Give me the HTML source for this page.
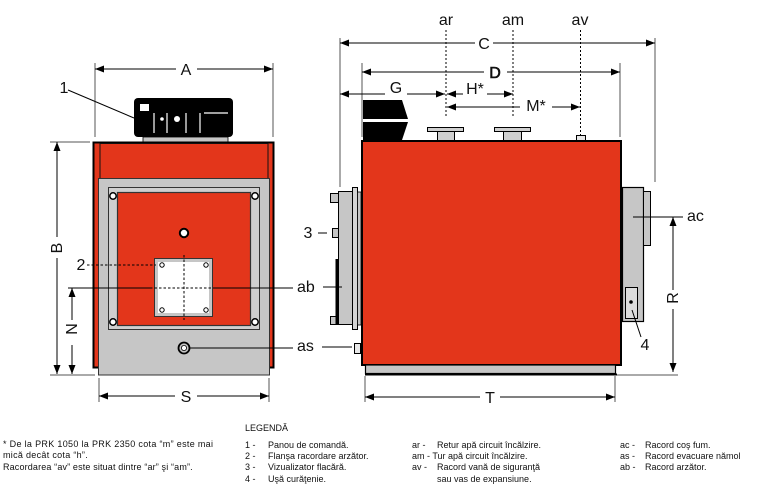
<!DOCTYPE html>
<html><head><meta charset="utf-8"><style>
html,body{margin:0;padding:0;background:#fff;}
svg{display:block;}
text{font-family:"Liberation Sans",Arial,sans-serif;fill:#111;}
.d{font-size:16px;}
.l{font-size:9px;}
</style></head><body>
<svg width="760" height="495" viewBox="0 0 760 495" xmlns="http://www.w3.org/2000/svg">
<defs>
<marker id="ar" viewBox="0 0 9 7" refX="9" refY="3.5" markerWidth="9" markerHeight="7" markerUnits="userSpaceOnUse" orient="auto"><path d="M0,0L9,3.5L0,7z" fill="#000"/></marker>
</defs>
<g stroke="#000" stroke-width="1" fill="none">
<line x1="95" y1="63" x2="95" y2="137" stroke="#555"/>
<line x1="273" y1="63" x2="273" y2="137" stroke="#555"/>
<line x1="176" y1="69" x2="95" y2="69" marker-end="url(#ar)"/>
<line x1="197" y1="69" x2="273" y2="69" marker-end="url(#ar)"/>
<line x1="68" y1="90" x2="134" y2="118"/>
<line x1="50" y1="142" x2="90" y2="142" stroke="#555"/>
<line x1="50" y1="375" x2="95" y2="375" stroke="#555"/>
<line x1="57" y1="237" x2="57" y2="142" marker-end="url(#ar)"/>
<line x1="57" y1="258" x2="57" y2="374" marker-end="url(#ar)"/>
<line x1="72" y1="320" x2="72" y2="288" marker-end="url(#ar)"/>
<line x1="72" y1="345" x2="72" y2="374" marker-end="url(#ar)"/>
<line x1="99" y1="378" x2="99" y2="402" stroke="#555"/>
<line x1="269" y1="378" x2="269" y2="402" stroke="#555"/>
<line x1="175" y1="396" x2="99" y2="396" marker-end="url(#ar)"/>
<line x1="197" y1="396" x2="269" y2="396" marker-end="url(#ar)"/>
</g>

<rect x="134" y="98" width="99" height="39" rx="4" fill="#000"/>
<rect x="140" y="104" width="9" height="7" fill="#fff"/>
<g stroke="#fff" stroke-width="1.2">
<line x1="154" y1="113" x2="154" y2="133"/>
<line x1="167" y1="113" x2="167" y2="133"/>
<line x1="186" y1="113" x2="186" y2="133"/>
<line x1="200" y1="113" x2="200" y2="133"/>
<line x1="204" y1="113" x2="228" y2="113"/>
</g>
<circle cx="162" cy="119" r="1.8" fill="#fff"/>
<circle cx="177" cy="119" r="3" fill="#fff"/>
<rect x="143" y="137" width="85" height="5" fill="#c6c6c6" stroke="#000" stroke-width="0.8"/>

<rect x="93.5" y="142.5" width="180" height="225" fill="#e3361b" stroke="#000" stroke-width="2"/>
<rect x="100" y="143.5" width="168" height="35" fill="#e3361b" stroke="#111" stroke-width="1"/>
<rect x="98.5" y="178.5" width="171" height="196.5" fill="#c6c6c6" stroke="#333" stroke-width="1"/>
<rect x="108.5" y="187.5" width="151" height="142" fill="#cfcfcf" stroke="#333" stroke-width="1"/>
<rect x="117.5" y="192.5" width="133" height="133" fill="#e3361b" stroke="#333" stroke-width="1.2"/>
<g fill="#fff" stroke="#000" stroke-width="1.5">
<circle cx="113" cy="196" r="3.2"/>
<circle cx="255" cy="196" r="3.2"/>
<circle cx="113" cy="322" r="3.2"/>
<circle cx="255" cy="322" r="3.2"/>
<circle cx="184" cy="233" r="4.2" stroke-width="2"/>
</g>
<rect x="154.5" y="258.5" width="58" height="58" fill="#c6c6c6" stroke="#333" stroke-width="1"/>
<rect x="158" y="262" width="51" height="51" fill="#fff"/>
<g fill="#fff" stroke="#000" stroke-width="1">
<circle cx="162" cy="265" r="2.2"/>
<circle cx="206" cy="265" r="2.2"/>
<circle cx="162" cy="310" r="2.2"/>
<circle cx="206" cy="310" r="2.2"/>
</g>
<g stroke="#000" stroke-width="1" stroke-dasharray="2.5,2" fill="none">
<line x1="184" y1="255" x2="184" y2="320"/>
<line x1="150" y1="288" x2="215" y2="288"/>
<line x1="87" y1="265" x2="156" y2="265"/>
</g>
<g stroke="#000" stroke-width="1">
<line x1="68" y1="288" x2="150" y2="288"/>
<line x1="215" y1="288" x2="293" y2="288"/>
<line x1="190" y1="348" x2="293" y2="348"/>
</g>
<circle cx="184" cy="348" r="5.5" fill="#c6c6c6" stroke="#000" stroke-width="1.8"/>
<circle cx="184" cy="348" r="2.6" fill="#fff" stroke="#000" stroke-width="0.8"/>

<g stroke="#000" stroke-width="1" fill="none">
<line x1="340" y1="38" x2="340" y2="187" stroke="#555"/>
<line x1="655" y1="38" x2="655" y2="182" stroke="#555"/>
<line x1="362" y1="63" x2="362" y2="137" stroke="#555"/>
<line x1="620" y1="63" x2="620" y2="137" stroke="#555"/>
<line x1="475" y1="43" x2="340" y2="43" marker-end="url(#ar)"/>
<line x1="493" y1="43" x2="655" y2="43" marker-end="url(#ar)"/>
<line x1="484" y1="72" x2="362" y2="72" marker-end="url(#ar)"/>
<line x1="507" y1="72" x2="620" y2="72" marker-end="url(#ar)"/>
<line x1="385" y1="94" x2="340" y2="94" marker-end="url(#ar)"/>
<line x1="407" y1="94" x2="445" y2="94" marker-end="url(#ar)"/>
<line x1="463" y1="94" x2="447" y2="94" marker-end="url(#ar)"/>
<line x1="487" y1="94" x2="513" y2="94" marker-end="url(#ar)"/>
<line x1="520" y1="107" x2="447" y2="107" marker-end="url(#ar)"/>
<line x1="552" y1="107" x2="580" y2="107" marker-end="url(#ar)"/>
</g>
<g stroke="#000" stroke-width="1" stroke-dasharray="2,2">
<line x1="446" y1="30" x2="446" y2="117"/>
<line x1="513" y1="30" x2="513" y2="117"/>
<line x1="580.5" y1="30" x2="580.5" y2="135"/>
</g>
<polygon points="363,100 402,100 408,119 363,119" fill="#000"/>
<polygon points="363,122 408,122 402,140 363,140" fill="#000"/>
<rect x="437.5" y="131" width="17" height="10" fill="#d0d0d0" stroke="#000" stroke-width="1"/>
<rect x="427.5" y="127.5" width="36" height="4" fill="#d0d0d0" stroke="#000" stroke-width="1"/>
<rect x="503.5" y="131" width="18" height="10" fill="#d0d0d0" stroke="#000" stroke-width="1"/>
<rect x="494.5" y="127.5" width="36" height="4" fill="#d0d0d0" stroke="#000" stroke-width="1"/>
<rect x="576.5" y="135.5" width="9" height="5" fill="#e8e8e8" stroke="#000" stroke-width="1"/>
<rect x="362" y="141" width="259" height="224" fill="#e3361b" stroke="#000" stroke-width="2"/>
<rect x="365.5" y="365" width="250" height="8.5" fill="#c6c6c6" stroke="#000" stroke-width="1.2"/>
<line x1="365" y1="374.5" x2="617" y2="374.5" stroke="#000" stroke-width="2"/>
<rect x="338.5" y="191.5" width="14" height="133" fill="#c6c6c6" stroke="#000" stroke-width="1"/>
<rect x="352.5" y="187.5" width="5" height="142" fill="#d4d4d4" stroke="#000" stroke-width="1"/>
<rect x="357.5" y="192" width="3.5" height="133" fill="#c6c6c6" stroke="#000" stroke-width="0.8"/>
<rect x="330.5" y="193.5" width="8" height="9" fill="#c6c6c6" stroke="#000" stroke-width="1"/>
<rect x="330.5" y="316.5" width="8" height="8" fill="#c6c6c6" stroke="#000" stroke-width="1"/>
<rect x="332.5" y="228.5" width="6" height="9" fill="#c6c6c6" stroke="#000" stroke-width="1"/>
<rect x="335.5" y="259" width="2.5" height="66" fill="#000"/>
<rect x="354.5" y="343.5" width="6" height="10" fill="#e8e8e8" stroke="#000" stroke-width="1"/>
<g stroke="#000" stroke-width="1">
<line x1="318" y1="233" x2="327" y2="233"/>
<line x1="323" y1="287" x2="342" y2="287"/>
<line x1="322" y1="347" x2="352" y2="347"/>
</g>
<rect x="622.5" y="187.5" width="21" height="134" fill="#c6c6c6" stroke="#000" stroke-width="1.2"/>
<rect x="643.5" y="191.5" width="7" height="54" fill="#c6c6c6" stroke="#000" stroke-width="1"/>
<rect x="625.5" y="287.5" width="12" height="31" fill="#dcdcdc" stroke="#000" stroke-width="1"/>
<circle cx="631" cy="302" r="1.8" fill="#000"/>
<g stroke="#000" stroke-width="1" fill="none">
<line x1="632" y1="310" x2="641" y2="337"/>
<line x1="633" y1="217" x2="683" y2="217"/>
<line x1="617" y1="375" x2="678" y2="375" stroke="#555"/>
<line x1="673" y1="290" x2="673" y2="217" marker-end="url(#ar)"/>
<line x1="673" y1="309" x2="673" y2="372" marker-end="url(#ar)"/>
<line x1="365" y1="376" x2="365" y2="402" stroke="#555"/>
<line x1="615" y1="376" x2="615" y2="402" stroke="#555"/>
<line x1="480" y1="397" x2="365" y2="397" marker-end="url(#ar)"/>
<line x1="500" y1="397" x2="615" y2="397" marker-end="url(#ar)"/>
</g>

<g class="d">
<text x="186" y="75" text-anchor="middle">A</text>
<text x="64" y="93" text-anchor="middle">1</text>
<text x="81" y="270" text-anchor="middle">2</text>
<text x="308" y="238" text-anchor="middle">3</text>
<text x="645" y="350" text-anchor="middle">4</text>
<text x="297" y="292">ab</text>
<text x="297" y="351">as</text>
<text x="687" y="221">ac</text>
<text x="186" y="402" text-anchor="middle">S</text>
<text x="490" y="403" text-anchor="middle">T</text>
<text x="484" y="49" text-anchor="middle">C</text>
<text x="495" y="78" text-anchor="middle" fill="#666" stroke="#111" stroke-width="0.6">D</text>
<text x="396" y="93" text-anchor="middle">G</text>
<text x="475" y="94" text-anchor="middle">H*</text>
<text x="536" y="111" text-anchor="middle">M*</text>
<text x="446" y="25" text-anchor="middle">ar</text>
<text x="513" y="25" text-anchor="middle">am</text>
<text x="580" y="25" text-anchor="middle">av</text>
<text transform="translate(62,248) rotate(-90)" text-anchor="middle">B</text>
<text transform="translate(77,329) rotate(-90)" text-anchor="middle">N</text>
<text transform="translate(678,298) rotate(-90)" text-anchor="middle">R</text>
</g>

<g class="l">
<text x="3" y="447" textLength="210" lengthAdjust="spacing">* De la PRK 1050 la PRK 2350 cota “m” este mai</text>
<text x="3" y="458" letter-spacing="0.3">mică decât  cota “h”.</text>
<text x="3" y="470" letter-spacing="0.15">Racordarea “av” este situat dintre “ar” şi “am”.</text>
<text x="245" y="431">LEGENDĂ</text>
<text x="245" y="448">1 -</text><text x="268" y="448">Panou de comandă.</text>
<text x="245" y="459">2 -</text><text x="268" y="459">Flanşa racordare arzător.</text>
<text x="245" y="470">3 -</text><text x="268" y="470">Vizualizator flacără.</text>
<text x="245" y="482">4 -</text><text x="268" y="482">Uşă curăţenie.</text>
<text x="412" y="448">ar -</text><text x="437" y="448">Retur apă circuit încălzire.</text>
<text x="412" y="459">am - Tur apă circuit încălzire.</text>
<text x="412" y="470">av -</text><text x="437" y="470">Racord vană de siguranţă</text>
<text x="437" y="482">sau vas de expansiune.</text>
<text x="620" y="448">ac -</text><text x="645" y="448">Racord coş fum.</text>
<text x="620" y="459">as -</text><text x="645" y="459">Racord evacuare nămol</text>
<text x="620" y="470">ab -</text><text x="645" y="470">Racord arzător.</text>
</g>
</svg>
</body></html>
